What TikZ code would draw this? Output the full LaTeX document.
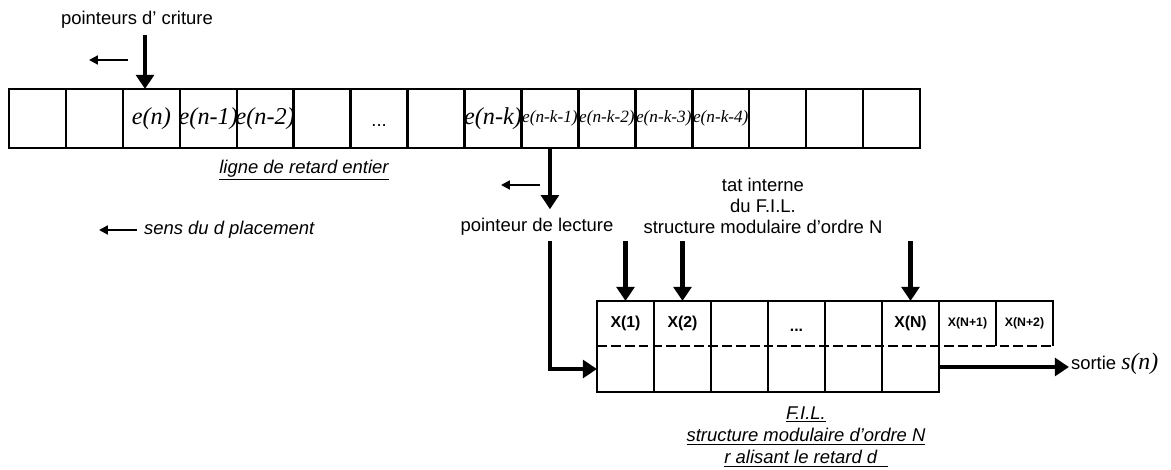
\documentclass[tikz,border=0pt]{standalone}
\usepackage{fontspec}
\setmainfont{Liberation Sans}
\newfontfamily\timesfont{Liberation Serif}
\usetikzlibrary{positioning, arrows.meta}

\tikzset{
  cell/.style={draw, line width=1.4pt, minimum width=1.139cm, minimum height=1.18cm, inner sep=0pt, outer sep=0pt},
  filcell/.style={minimum width=1.14cm, inner sep=0pt, outer sep=0pt},
  cellline/.style={line width=1.4pt},
  bigarrow/.style={-{Triangle[length=8pt, width=10pt]}, line width=2.4pt},
  smallarrow/.style={-{Triangle[length=5pt, width=5pt]}, line width=1.2pt},
  txt/.style={font=\fontsize{10.5}{12}\selectfont, inner sep=1pt},
  txtit/.style={font=\fontsize{10.5}{12}\selectfont\itshape, inner sep=1pt},
  ebig/.style={font=\fontsize{13.8}{14}\selectfont\timesfont\itshape, inner sep=0pt},
  esmall/.style={font=\fontsize{9.8}{10}\selectfont\timesfont\itshape, inner sep=0pt},
  xlab/.style={font=\fontsize{9}{9}\selectfont\bfseries, inner sep=0pt},
  xsmall/.style={font=\fontsize{7}{7}\selectfont\bfseries, inner sep=0pt}
}

\begin{document}
\begin{tikzpicture}[x=0.02cm, y=-0.02cm]
\useasboundingbox (0,0) rectangle (1171,470);

% ligne de retard entier
\foreach \i in {1,...,16}
  \node[cell] (c\i) at ({9+56.94*(\i-0.5)},118.5) {};
\foreach \i/\t in {3/e(n), 4/e(n-1), 5/e(n-2), 9/e(n-k)}
  \node[ebig] at (c\i) {\t};
\foreach \i/\t in {10/e(n-k-1), 11/e(n-k-2), 12/e(n-k-3), 13/e(n-k-4)}
  \node[esmall] at (c\i) {\t};
\node[txt, yshift=-0.14cm] at (c7) {...};
\node[txtit] (ligne) at (304,170) {\underline{ligne de retard entier}};

% pointeur d'ecriture
\node[txt] (pe) at (137,20) {pointeurs d’ criture};
\coordinate (wp) at (145,35);
\draw[bigarrow] (wp) -- (wp |- c3.north);
\coordinate (wa) at (128,60);
\draw[smallarrow] (wa) -- ++(-39,0);

% pointeur de lecture
\node[txt] (pl) at (537,227) {pointeur de lecture};
\draw[bigarrow] (c10.south) -- ([yshift=4pt]c10.south |- pl.north);
\coordinate (ra) at (540,185);
\draw[smallarrow] (ra) -- ++(-39,0);

% sens du deplacement
\node[txtit, anchor=west] (sens) at (142,230) {sens du d placement};
\draw[smallarrow] ([xshift=-0.1cm]sens.west) -- ++(-38,0);

% F.I.L.
\foreach \i in {1,...,8}
  \node[filcell, minimum height=0.9cm] (u\i) at ({597+57*(\i-0.5)},323.5) {};
\foreach \i in {1,...,6}
  \node[filcell, minimum height=0.92cm] (l\i) at ({597+57*(\i-0.5)},369) {};
\foreach \i in {1,...,8}
  \draw[cellline] (u\i.south west) -- (u\i.north west) -- (u\i.north east) -- (u\i.south east);
\foreach \i in {1,...,6}
  \draw[cellline] (l\i.north west) -- (l\i.south west) -- (l\i.south east) -- (l\i.north east);
\draw[cellline, dash pattern=on 5.6pt off 2.3pt] (u1.south west) -- (u8.south east);

\foreach \i/\t in {1/X(1), 2/X(2), 6/X(N)}
  \node[xlab] at (u\i) {\t};
\node[xlab, yshift=-0.14cm] at (u4) {...};
\node[xsmall] at (u7) {X(N+1)};
\node[xsmall] at (u8) {X(N+2)};

\node[txt, align=center, font=\fontsize{10.5}{11.9}\selectfont] (etat) at (763,206)
  {tat interne\\du F.I.L.\\structure modulaire d’ordre N};
\foreach \i in {1,2,6}
  \draw[bigarrow] (u\i.north |- 0,241) -- (u\i.north);

\draw[bigarrow] ([yshift=-2pt]c10.south |- pl.south) |- (l1.west);

\node[txt, anchor=west] (sortie) at (1069,364) {sortie {\timesfont\itshape\fontsize{13.5}{14}\selectfont s(n)}};
\draw[bigarrow] (l6.east |- 0,367) -- (sortie.west |- 0,367);

\node[txtit, align=center, font=\fontsize{10.5}{12.75}\selectfont\itshape] (fil) at (806,437)
  {\underline{F.I.L.}\\\underline{structure modulaire d’ordre N}\\\underline{r alisant le retard d\ \ }};
\end{tikzpicture}
\end{document}
